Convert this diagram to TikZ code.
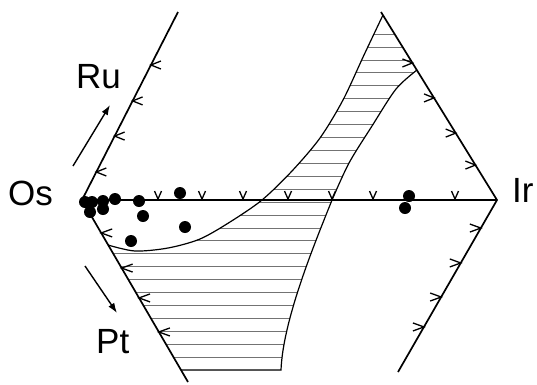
\documentclass[tikz,border=0pt]{standalone}
\usepackage{fontspec}
\setmainfont{Liberation Sans}
\usetikzlibrary{arrows.meta,calc}

\begin{document}
\begin{tikzpicture}[x=1pt, y=-1pt,
    edge/.style={line width=1.7pt},
    curve/.style={line width=1.2pt},
    hatch/.style={line width=0.6pt, black!55},
    tick/.style={line width=1.3pt},
    lab/.style={inner sep=0pt, font=\fontsize{35}{40}\selectfont},
    move/.style={line width=1.4pt, -{Latex[length=10pt,width=7pt]}}]
    \useasboundingbox (0,0) rectangle (537,384);

    % 边界顶点
    \coordinate (Os) at (82,200);
    \coordinate (Ir) at (497,200);
    \coordinate (A) at (178,12);   % 左上端
    \coordinate (B) at (188,382);  % 左下端
    \coordinate (C) at (381,12);   % 右上端
    \coordinate (D) at (398,372);  % 右下端

    % 两条边界曲线
    \def\curveone{(108,245) (135,251) (168,248) (200,239) (230,222) (262,200)
        (292,171) (320,138) (343,100) (364,55) (383,15)}
    \def\curvetwo{(417,70) (396,89) (372,126) (349,163) (332,200)}
    \def\curvetwolow{.. controls (314,245) and (283,320) .. (281,370)}

    % 阴影区域（水平线）
    \begin{scope}
        \clip plot[smooth] coordinates {\curveone}
            -- plot[smooth] coordinates {\curvetwo} \curvetwolow
            -- (181,370) -- cycle;
        \foreach \k in {0,...,26}
            \draw[hatch] (90,{34+12.92*\k}) -- (430,{34+12.92*\k});
    \end{scope}

    % 再画曲线
    \draw[curve] plot[smooth] coordinates {\curveone};
    \draw[curve] plot[smooth] coordinates {\curvetwo} \curvetwolow -- (181,370);

    % 外边界
    \draw[edge] (A) -- (Os) -- (B);
    \draw[edge] (C) -- (Ir) -- (D);
    \draw[edge] (Os) -- (Ir);

    % 边上的小记号
    \foreach \t in {0.149,0.340,0.527,0.718}
        \draw[tick] ($(Os)!\t!(A)$) ++(10,-4) -- ++(-10,4) -- ++(10,4);
    \foreach \t in {0.181,0.374,0.538,0.725}
        \draw[tick] ($(Os)!\t!(B)$) ++(11,-4) -- ++(-11,4) -- ++(11,4);
    \foreach \t in {0.186,0.356,0.543,0.729}
        \draw[tick] ($(Ir)!\t!(C)$) ++(-10,-4) -- ++(10,4) -- ++(-10,4);
    \foreach \t in {0.163,0.366,0.564,0.738}
        \draw[tick] ($(Ir)!\t!(D)$) ++(-11,-4) -- ++(11,4) -- ++(-11,4);
    \foreach \xv in {158,202,243,288,332,373,455}
        \draw[tick] (\xv-3.5,191) -- (\xv,199) -- (\xv+3.5,191);

    % 数据点
    \foreach \p in {(85,202),(92,202),(103,201),(115,199),(90,212),(103,209),
        (139,201),(180,193),(143,216),(185,227),(131,241),(409,196),(405,208)}
        \fill \p circle[radius=6pt];

    % 元素标签
    \node[lab, anchor=base west] (os) at (8,205) {Os};
    \node[lab, anchor=base west] (ir) at (512,202) {Ir};
    \node[lab, anchor=base west] (ru) at (76,88) {Ru};
    \node[lab, anchor=base west] (pt) at (96,353) {Pt};

    % 方向箭头
    \coordinate (ru1) at (73,166);
    \coordinate (ru2) at (110,105);
    \coordinate (pt1) at (85,266);
    \coordinate (pt2) at (117,313);
    \draw[move] (ru1) -- (ru2);
    \draw[move] (pt1) -- (pt2);
\end{tikzpicture}
\end{document}
